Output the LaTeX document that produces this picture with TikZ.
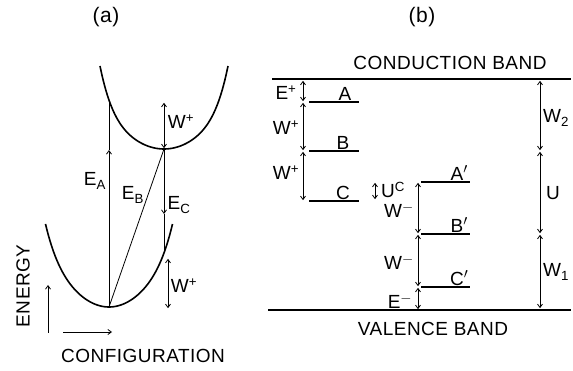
\documentclass[tikz,border=0pt]{standalone}
\usepackage{fontspec}
\setmainfont{Liberation Sans}[LetterSpace=2.5]
\usetikzlibrary{arrows.meta}

\begin{document}
\begin{tikzpicture}[
    x=1pt, y=-1pt,
    font=\fontsize{19}{21}\selectfont,
    >={Straight Barb[length=3.5pt,width=5pt]},
    curve/.style={line width=1.6pt},
    level/.style={line width=1.5pt},
    band/.style={line width=1.1pt},
    trans/.style={line width=0.8pt},
    arrow/.style={->, line width=0.8pt},
    gap/.style={<->, line width=0.8pt, shorten <=0.8pt, shorten >=0.8pt},
    lbl/.style={inner sep=1pt},
    title/.style={font=\fontsize{21}{23}\selectfont}
]
\useasboundingbox (0,0) rectangle (573,371);

% (a): configuration coordinate diagram
\node[title] (tita) at (106,17) {(a)};
\draw[curve] plot[domain=-1:1, samples=80, smooth]
    ({164+64*\x}, {149-46*\x*\x-37*(\x*\x)^3});
\draw[curve] plot[domain=-1:1, samples=80, smooth]
    ({109+63.5*\x}, {307-58*\x*\x-25*(\x*\x)^3});
\coordinate (lowmin) at (109,307);
\coordinate (upmin) at (164,149);
\coordinate (eamid) at (109,150);
\coordinate (eatop) at (109,100);
\coordinate (ecmid) at (164,214);
\coordinate (ecbot) at (164,253);
\draw[arrow] (lowmin) -- (eamid);
\draw[trans] (eamid) -- (eatop);
\draw[trans] (lowmin) -- (upmin);
\draw[arrow] (upmin) -- (ecmid);
\draw[trans] (ecmid) -- (ecbot);
\coordinate (wup) at (164,102);
\coordinate (wlowa) at (168,258);
\coordinate (wlowb) at (168,309);
\draw[gap] (wup) -- (upmin);
\draw[gap] (wlowa) -- (wlowb);
\node[lbl] (ea) at (95,181) {E\textsubscript{A}};
\node[lbl] (eb) at (133,195) {E\textsubscript{B}};
\node[lbl] (ec) at (179,205) {E\textsubscript{C}};
\node[lbl] (wpa) at (181,122) {W\textsuperscript{+}};
\node[lbl] (wpb) at (184,286) {W\textsuperscript{+}};

% axes
\node[rotate=90] (energy) at (23,286) {ENERGY};
\coordinate (eaxa) at (48,333);
\coordinate (eaxb) at (48,285);
\coordinate (caxa) at (63,332);
\coordinate (caxb) at (112,332);
\draw[arrow] (eaxa) -- (eaxb);
\draw[arrow] (caxa) -- (caxb);
\node (config) at (143,356) {CONFIGURATION};

% (b): level scheme between the bands
\node[title] (titb) at (422,17) {(b)};
\node (cbtext) at (450,63) {CONDUCTION BAND};
\node (vbtext) at (433,329) {VALENCE BAND};
\coordinate (cbl) at (272,79);
\coordinate (cbr) at (571,79);
\coordinate (vbl) at (268,310);
\coordinate (vbr) at (571,310);
\draw[band] (cbl) -- (cbr);
\draw[band] (vbl) -- (vbr);

% donor-like levels A, B, C
\coordinate (la) at (309,102);
\coordinate (ra) at (359,102);
\coordinate (lb) at (309,151);
\coordinate (rb) at (359,151);
\coordinate (lc) at (309,201);
\coordinate (rc) at (359,201);
\draw[level] (la) -- (ra) node[pos=0.72, above, lbl] (laba) {A};
\draw[level] (lb) -- (rb) node[pos=0.68, above, lbl] (labb) {B};
\draw[level] (lc) -- (rc) node[pos=0.68, above, lbl] (labc) {C};
\coordinate (p0) at (303,80);
\coordinate (p1) at (303,102);
\coordinate (p2) at (303,151);
\coordinate (p3) at (303,201);
\draw[gap] (p0) -- (p1);
\draw[gap] (p1) -- (p2);
\draw[gap] (p2) -- (p3);
\node[lbl] (ep) at (286,93) {E\textsuperscript{+}};
\node[lbl] (wp1) at (286,128) {W\textsuperscript{+}};
\node[lbl] (wp2) at (286,173) {W\textsuperscript{+}};

% acceptor-like levels A', B', C'
\coordinate (la2) at (421,182);
\coordinate (ra2) at (470,182);
\coordinate (lb2) at (421,234);
\coordinate (rb2) at (470,234);
\coordinate (lc2) at (421,287);
\coordinate (rc2) at (470,287);
\draw[level] (la2) -- (ra2) node[pos=0.78, above, lbl] (laba2) {A$'$};
\draw[level] (lb2) -- (rb2) node[pos=0.78, above, lbl] (labb2) {B$'$};
\draw[level] (lc2) -- (rc2) node[pos=0.78, above, lbl] (labc2) {C$'$};
\coordinate (q1) at (418,182);
\coordinate (q2) at (418,234);
\coordinate (q3) at (418,287);
\coordinate (q4) at (418,310);
\draw[gap] (q1) -- (q2);
\draw[gap] (q2) -- (q3);
\draw[gap] (q3) -- (q4);
\node[lbl] (wm1) at (399,210) {W\textsuperscript{$-$}};
\node[lbl] (wm2) at (399,262) {W\textsuperscript{$-$}};
\node[lbl] (em) at (400,301) {E\textsuperscript{$-$}};
\coordinate (uca) at (375,182);
\coordinate (ucb) at (375,200);
\draw[gap] (uca) -- (ucb);
\node[lbl] (uc) at (393,190) {U\textsuperscript{C}};

% band-edge distances
\coordinate (f0) at (540,80);
\coordinate (f1) at (540,151);
\coordinate (f2) at (540,234);
\coordinate (f3) at (540,309);
\draw[gap] (f0) -- (f1);
\draw[gap] (f1) -- (f2);
\draw[gap] (f2) -- (f3);
\node[lbl] (w2) at (556,118) {W\textsubscript{2}};
\node[lbl] (u) at (553,193) {U};
\node[lbl] (w1) at (556,272) {W\textsubscript{1}};
\end{tikzpicture}
\end{document}
